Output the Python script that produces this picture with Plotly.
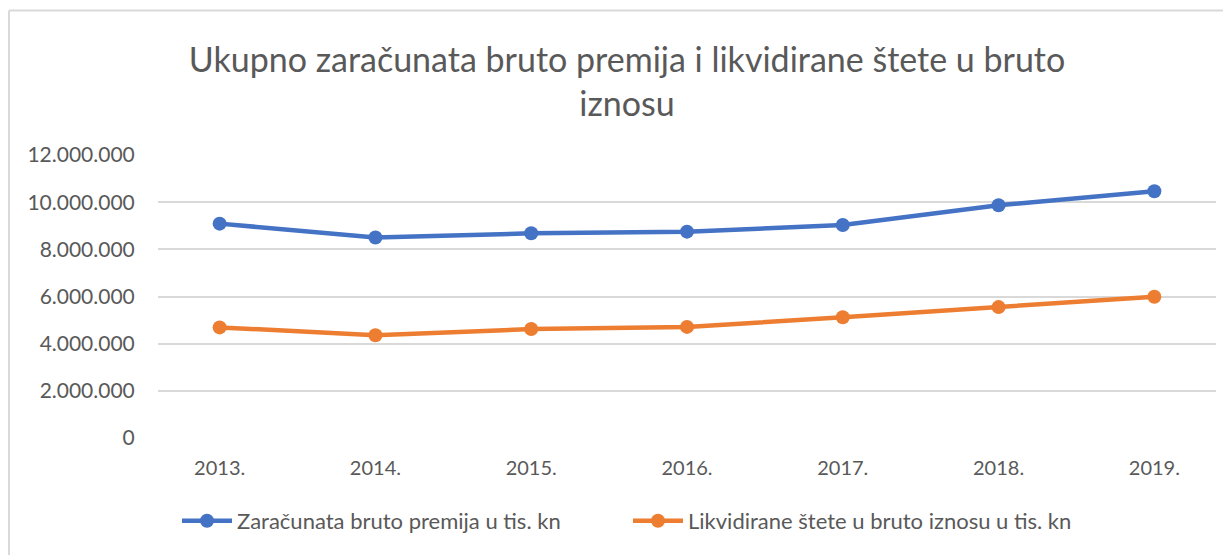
import plotly.graph_objects as go

years = ["2013.", "2014.", "2015.", "2016.", "2017.", "2018.", "2019."]
premija = [9090000, 8500000, 8680000, 8750000, 9030000, 9870000, 10460000]
stete = [4690000, 4360000, 4620000, 4710000, 5120000, 5550000, 5990000]
name_premija = "Zaračunata bruto premija u tis. kn"
name_stete = "Likvidirane štete u bruto iznosu u tis. kn"
title_text = "Ukupno zaračunata bruto premija i likvidirane štete u bruto<br>iznosu"
y_ticks = [0, 2000000, 4000000, 6000000, 8000000, 10000000, 12000000]

FONT = "Lato, 'Open Sans', sans-serif"
GREY = "#595959"

fig = go.Figure()
fig.add_trace(go.Scatter(x=years, y=premija, name=name_premija, mode="lines+markers",
                         line=dict(color="#4472C4", width=4.5),
                         marker=dict(size=14, color="#4472C4"), legend="legend"))
fig.add_trace(go.Scatter(x=years, y=stete, name=name_stete, mode="lines+markers",
                         line=dict(color="#ED7D31", width=4.5),
                         marker=dict(size=14, color="#ED7D31"), legend="legend2"))

# page body has an 8px margin; work in image coordinates and shift
OFF = 8
W, H = 1231 - OFF, 555 - OFF
L, T = 158 - OFF, 155 - OFF
R = W - (1216 - OFF)
B = H - (438 - OFF)
pw, ph = W - L - R, H - T - B

def px(x):
    return (x - OFF - L) / pw

def py(y):
    return (H - B - (y - OFF)) / ph

legend_common = dict(orientation="h", xanchor="left", y=py(521), yanchor="middle",
                     font=dict(size=22, color=GREY), itemwidth=50, bgcolor="rgba(0,0,0,0)")

fig.update_layout(
    width=W, height=H,
    margin=dict(l=L, r=R, t=T, b=B),
    paper_bgcolor="white", plot_bgcolor="white",
    separators=",.",
    font=dict(family=FONT, color=GREY, size=20),
    title=dict(text=title_text, x=(627 - OFF) / W, xanchor="center", y=1 - 64 / H, yanchor="middle",
               font=dict(family=FONT, size=34, color=GREY)),
    xaxis=dict(showgrid=False, showline=False, ticks="outside", ticklen=12,
               tickcolor="rgba(0,0,0,0)", tickfont=dict(size=20, color=GREY)),
    yaxis=dict(range=[0, 12000000], tickvals=y_ticks, tickformat=",d",
               showgrid=True, gridcolor="#D9D9D9", gridwidth=1.5, zeroline=False,
               ticks="outside", ticklen=18, tickcolor="rgba(0,0,0,0)",
               tickfont=dict(size=21, color=GREY)),
    legend=dict(x=px(177), **legend_common),
    legend2=dict(x=px(628), **legend_common),
    showlegend=True,
    shapes=[
        dict(type="line", xref="paper", yref="paper", x0=px(9), x1=px(1240), y0=py(10.5), y1=py(10.5),
             line=dict(color="#D9D9D9", width=2)),
        dict(type="line", xref="paper", yref="paper", x0=px(9), x1=px(9), y0=py(10.5), y1=py(565),
             line=dict(color="#D9D9D9", width=2)),
    ],
)

fig.write_html("out.html")
